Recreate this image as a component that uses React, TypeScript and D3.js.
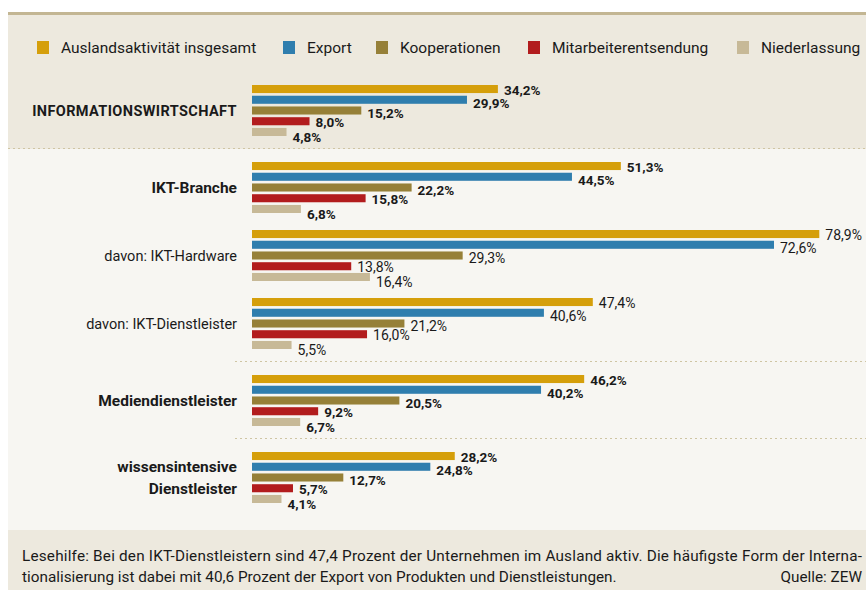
import React, { useEffect } from "react";
import * as d3 from "d3";

// series (legend order)
const seriesNames = [
  "Auslandsaktivität insgesamt",
  "Export",
  "Kooperationen",
  "Mitarbeiterentsendung",
  "Niederlassung",
];
const seriesColors = ["#d59f0b", "#2f7eae", "#968038", "#b21c1d", "#c7b997"];

// categories (label lines), bold flag
const categoryLabels = [
  ["INFORMATIONSWIRTSCHAFT"],
  ["IKT-Branche"],
  ["davon: IKT-Hardware"],
  ["davon: IKT-Dienstleister"],
  ["Mediendienstleister"],
  ["wissensintensive", "Dienstleister"],
];
const categoryBold = [true, true, false, false, true, true];

// values per category, in series order (percent)
const infoWirtschaft = [34.2, 29.9, 15.2, 8.0, 4.8];
const iktBranche = [51.3, 44.5, 22.2, 15.8, 6.8];
const iktHardware = [78.9, 72.6, 29.3, 13.8, 16.4];
const iktDienstleister = [47.4, 40.6, 21.2, 16.0, 5.5];
const medienDienstleister = [46.2, 40.2, 20.5, 9.2, 6.7];
const wissensintensive = [28.2, 24.8, 12.7, 5.7, 4.1];
const values = [
  infoWirtschaft,
  iktBranche,
  iktHardware,
  iktDienstleister,
  medienDienstleister,
  wissensintensive,
];

const noteLine1 =
  "Lesehilfe: Bei den IKT-Dienstleistern sind 47,4 Prozent der Unternehmen im Ausland aktiv. Die häufigste Form der Interna-";
const noteLine2 =
  "tionalisierung ist dabei mit 40,6 Prozent der Export von Produkten und Dienstleistungen.";
const source = "Quelle: ZEW";

const W = 866;
const H = 590;
const FONT = "Roboto, 'Noto Sans', sans-serif";
const legendX = [37, 283, 376, 528, 737];
const separatorsAfter = [0, 3, 4];
// vertical nudge of value labels per series (the labels sit a little below their bars)
const labelDy = [1, 3, 2.5, 1, 5.5];

export default function App() {
  useEffect(() => {
    document.body.style.margin = "0";
  }, []);

  const x = d3.scaleLinear().domain([0, 100]).range([252, 252 + 719]);
  const inner = d3
    .scaleBand<number>()
    .domain(d3.range(seriesNames.length))
    .range([0, 51])
    .paddingInner(0.25);

  // group tops: regular pitch plus extra room where a dotted separator sits
  const groupTop: number[] = [];
  let yy = 85;
  values.forEach((_, i) => {
    groupTop.push(yy);
    yy += 68 + (separatorsAfter.includes(i) ? 9 : 0);
  });
  const fmt = (v: number) => d3.format(".1f")(v).replace(".", ",") + "%";

  const sepY = (i: number) =>
    groupTop[i] + 51 + (groupTop[i + 1] - groupTop[i] - 51) / 2 - 0.5;

  return (
    <svg width={W} height={H} style={{ display: "block", fontFamily: FONT }}>
      <rect x={0} y={0} width={W} height={H} fill="#ffffff" />
      <rect x={8} y={15} width={W - 8} height={134} fill="#ede9de" />
      <rect x={8} y={149} width={W - 8} height={381} fill="#f7f6f2" />
      <rect x={8} y={530} width={W - 8} height={60} fill="#ede9de" />
      <rect x={8} y={12} width={W - 8} height={3} fill="#c3b693" />

      {/* separators */}
      {separatorsAfter.map((i) => (
        <line
          key={`sep-${i}`}
          x1={i === 0 ? 8 : 235}
          x2={W}
          y1={i === 0 ? 148.5 : sepY(i)}
          y2={i === 0 ? 148.5 : sepY(i)}
          stroke="#cfc5a3"
          strokeWidth={1.2}
          strokeDasharray="2,3"
        />
      ))}

      {/* legend */}
      {seriesNames.map((s, i) => (
        <g key={s} transform={`translate(${legendX[i]},41)`}>
          <rect width={12} height={13} fill={seriesColors[i]} />
          <text x={24} y={12} fontSize={15.5} fill="#1a1a1a">
            {s}
          </text>
        </g>
      ))}

      {/* groups */}
      {values.map((vals, gi) => {
        const top = groupTop[gi];
        const bold = categoryBold[gi];
        const lines = categoryLabels[gi];
        const mid = top + 25.5;
        return (
          <g key={`g-${gi}`}>
            {lines.map((ln, li) => (
              <text
                key={ln}
                x={237}
                y={mid + 5.5 + (li - (lines.length - 1) / 2) * 22}
                textAnchor="end"
                fontSize={gi === 0 ? 14.5 : bold ? 15.5 : 14.5}
                fontWeight={bold ? 700 : 400}
                letterSpacing={gi === 0 ? 0.4 : 0}
                fill="#1a1a1a"
              >
                {ln}
              </text>
            ))}
            {vals.map((v, si) => {
              const by = top + (inner(si) as number);
              return (
                <g key={`b-${gi}-${si}`}>
                  <rect
                    x={x(0)}
                    y={by}
                    width={x(v) - x(0)}
                    height={inner.bandwidth()}
                    fill={seriesColors[si]}
                  />
                  <text
                    x={x(v) + 6}
                    y={by + inner.bandwidth() / 2 + labelDy[si] + 4.8}
                    fontSize={bold ? 13.5 : 14}
                    fontWeight={bold ? 700 : 400}
                    fill="#1a1a1a"
                  >
                    {fmt(v)}
                  </text>
                </g>
              );
            })}
          </g>
        );
      })}

      {/* footnote */}
      <text
        x={22}
        y={561}
        fontSize={15.3}
        fill="#1a1a1a"
        textLength={840}
        lengthAdjust="spacing"
      >
        {noteLine1}
      </text>
      <text x={22} y={582} fontSize={15.3} fill="#1a1a1a">
        {noteLine2}
      </text>
      <text x={862} y={582} fontSize={15.3} textAnchor="end" fill="#1a1a1a">
        {source}
      </text>
    </svg>
  );
}
